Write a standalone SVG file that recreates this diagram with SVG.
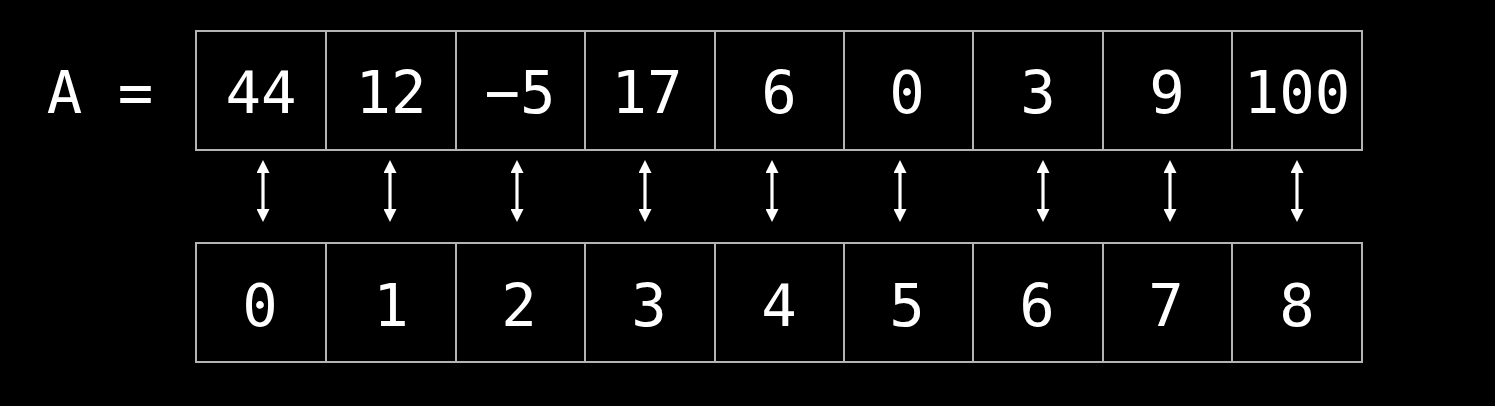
<svg xmlns="http://www.w3.org/2000/svg" width="1495" height="406" viewBox="0 0 1495 406">
<defs>
<style>
.cell{fill:#000;stroke:#b4b4b4;stroke-width:2}
.t{font-family:"DejaVu Sans Mono","Liberation Mono",monospace;font-size:59px;fill:#fff;text-anchor:middle}
.c{stroke:#fff;stroke-width:3.2;fill:none;marker-start:url(#ah);marker-end:url(#ah)}
</style>
<marker id="ah" viewBox="0 0 13 13" refX="1" refY="6.5" markerWidth="13" markerHeight="13" orient="auto-start-reverse" markerUnits="userSpaceOnUse">
<path d="M0,0 L13,6.5 L0,13 z" fill="#fff"/>
</marker>
</defs>
<rect width="1495" height="406" fill="#000"/>
<g id="label-A"><text class="t" x="100" y="113">A =</text></g>
<g id="array">
<g id="a0"><rect class="cell" x="196" y="31" width="130" height="119"/><text class="t" x="261" y="113">44</text></g>
<g id="a1"><rect class="cell" x="326" y="31" width="130" height="119"/><text class="t" x="391" y="113">12</text></g>
<g id="a2"><rect class="cell" x="456" y="31" width="129" height="119"/><text class="t" x="520" y="113">−5</text></g>
<g id="a3"><rect class="cell" x="585" y="31" width="130" height="119"/><text class="t" x="647" y="113">17</text></g>
<g id="a4"><rect class="cell" x="715" y="31" width="129" height="119"/><text class="t" x="779" y="113">6</text></g>
<g id="a5"><rect class="cell" x="844" y="31" width="129" height="119"/><text class="t" x="907" y="113">0</text></g>
<g id="a6"><rect class="cell" x="973" y="31" width="130" height="119"/><text class="t" x="1038" y="113">3</text></g>
<g id="a7"><rect class="cell" x="1103" y="31" width="129" height="119"/><text class="t" x="1167" y="113">9</text></g>
<g id="a8"><rect class="cell" x="1232" y="31" width="130" height="119"/><text class="t" x="1297" y="113">100</text></g>
</g>
<g id="indices">
<g id="i0"><rect class="cell" x="196" y="243" width="130" height="119"/><text class="t" x="260" y="326">0</text></g>
<g id="i1"><rect class="cell" x="326" y="243" width="130" height="119"/><text class="t" x="391" y="326">1</text></g>
<g id="i2"><rect class="cell" x="456" y="243" width="129" height="119"/><text class="t" x="519" y="326">2</text></g>
<g id="i3"><rect class="cell" x="585" y="243" width="130" height="119"/><text class="t" x="649" y="326">3</text></g>
<g id="i4"><rect class="cell" x="715" y="243" width="129" height="119"/><text class="t" x="779" y="326">4</text></g>
<g id="i5"><rect class="cell" x="844" y="243" width="129" height="119"/><text class="t" x="907" y="326">5</text></g>
<g id="i6"><rect class="cell" x="973" y="243" width="130" height="119"/><text class="t" x="1037" y="326">6</text></g>
<g id="i7"><rect class="cell" x="1103" y="243" width="129" height="119"/><text class="t" x="1166" y="326">7</text></g>
<g id="i8"><rect class="cell" x="1232" y="243" width="130" height="119"/><text class="t" x="1297" y="326">8</text></g>
</g>
<g id="connectors">
<line class="c" x1="263" y1="172" x2="263" y2="210"/>
<line class="c" x1="390" y1="172" x2="390" y2="210"/>
<line class="c" x1="517" y1="172" x2="517" y2="210"/>
<line class="c" x1="645" y1="172" x2="645" y2="210"/>
<line class="c" x1="772" y1="172" x2="772" y2="210"/>
<line class="c" x1="900" y1="172" x2="900" y2="210"/>
<line class="c" x1="1043" y1="172" x2="1043" y2="210"/>
<line class="c" x1="1170" y1="172" x2="1170" y2="210"/>
<line class="c" x1="1297" y1="172" x2="1297" y2="210"/>
</g>
</svg>
